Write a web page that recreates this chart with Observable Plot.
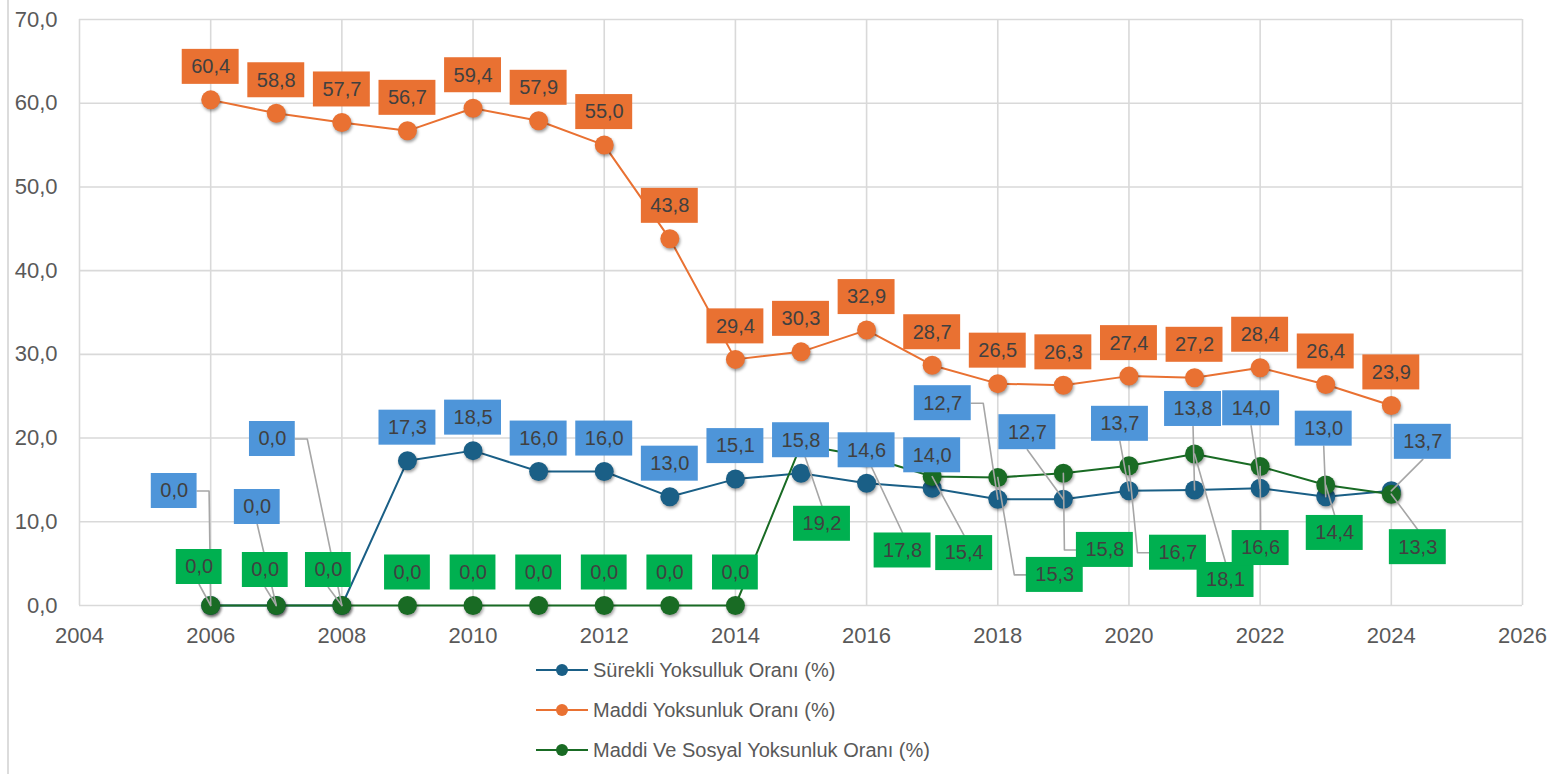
<!DOCTYPE html>
<html><head><meta charset="utf-8">
<script src="https://cdn.jsdelivr.net/npm/d3@7"></script>
<script src="https://cdn.jsdelivr.net/npm/@observablehq/plot@0.6"></script>
<style>
body{margin:0;background:#fff;width:1566px;height:774px;overflow:hidden;position:relative;font-family:"Liberation Sans",Arial,sans-serif;}
#frame{position:absolute;left:7px;top:0;height:774px;border-left:2px solid #dcdcdc;}
#chart{position:absolute;left:0;top:0;}
#legend{position:absolute;left:536px;top:650px;}
.row{display:flex;align-items:center;height:40px;color:#595959;font-size:20px;}
.row svg{margin-right:5px;}
#chart g[aria-label="dot"]{filter:drop-shadow(1px 2px 1.5px rgba(0,0,0,0.38));}
</style></head><body>
<div id="frame"></div><div id="chart"></div><div id="legend"></div>
<script>
const years = [2006,2007,2008,2009,2010,2011,2012,2013,2014,2015,2016,2017,2018,2019,2020,2021,2022,2023,2024];
const surekli = [0.0,0.0,0.0,17.3,18.5,16.0,16.0,13.0,15.1,15.8,14.6,14.0,12.7,12.7,13.7,13.8,14.0,13.0,13.7];
const maddi = [60.4,58.8,57.7,56.7,59.4,57.9,55.0,43.8,29.4,30.3,32.9,28.7,26.5,26.3,27.4,27.2,28.4,26.4,23.9];
const maddiSosyal = [0.0,0.0,0.0,0.0,0.0,0.0,0.0,0.0,0.0,19.2,17.8,15.4,15.3,15.8,16.7,18.1,16.6,14.4,13.3];
const seriesNames = ["Sürekli Yoksulluk Oranı (%)","Maddi Yoksunluk Oranı (%)","Maddi Ve Sosyal Yoksunluk Oranı (%)"];
const xTicks = [2004,2006,2008,2010,2012,2014,2016,2018,2020,2022,2024,2026];
const yTicks = [0,10,20,30,40,50,60,70];

// styling
const lineColors = ["#1a5f86","#e97132","#196b24"];
const labelColors = ["#4e95d9","#e97132","#00b050"];
// label offsets from their point, in pixels [dx, dy] (Excel-style manually moved labels)
const surekliLabelShift = [[-36.5,-114.5],[-19,-98.5],[-69.5,-166.5],[0,-33],[0,-33],[0,-33],[0,-33],[0,-33],[0,-33],[0,-33],[0,-33],[0,-33],[-55,-96],[-36,-67],[-9,-67],[-1.5,-81],[-9,-80],[-2,-68],[31.5,-49]];
const maddiLabelShift = years.map(() => [0,-33]);
const maddiSosyalLabelShift = [[-11.5,-38.5],[-11,-35.5],[-13.5,-35.5],[0,-33],[0,-33],[0,-33],[0,-33],[0,-33],[0,-33],[21,79],[36,94],[32,76.5],[57,97.5],[41.5,76.7],[49,87],[31,126],[0.5,81.5],[9,48],[26.5,53]];

const W = 1566, H = 650, mL = 79, mR = 44, mT = 19, mB = 45;
const xs = Plot.scale({x: {domain: [2004, 2026], range: [mL, W - mR]}});
const ys = Plot.scale({y: {domain: [0, 70], range: [H - mB, mT]}});
const fmt = v => v.toFixed(1).replace(".", ",");

const allValues = [surekli, maddi, maddiSosyal];
const allShifts = [surekliLabelShift, maddiLabelShift, maddiSosyalLabelShift];

const series = allValues.map((vals, s) => years.map((yr, i) => ({year: yr, value: vals[i], s})));

const labels = [[],[],[]];
const leaders = [];
allValues.forEach((vals, s) => {
  years.forEach((yr, i) => {
    const v = vals[i];
    const [dx, dy] = allShifts[s][i];
    const px = xs.apply(yr), py = ys.apply(v);
    const cx = px + dx, cy = py + dy;
    const txt = fmt(v);
    const nd = txt.length - 1;
    const w = 18 + 20 * (nd * 0.556 + 0.278);
    const h = 35;
    const bx1 = cx - w / 2, bx2 = cx + w / 2, by1 = cy - h / 2, by2 = cy + h / 2;
    labels[s].push({
      text: txt,
      x: xs.invert(cx), y: ys.invert(cy),
      x1: xs.invert(bx1), x2: xs.invert(bx2), y1: ys.invert(by2), y2: ys.invert(by1)
    });
    if (!(dx === 0 && dy === -33)) {
      const id = s + "-" + i;
      let pts;
      if (px >= bx1 - 10 && px <= bx2 + 10) {
        pts = [[cx, py > cy ? by2 : by1], [px, py]];
      } else {
        const right = px > bx2;
        const side = right ? bx2 : bx1;
        const stub = side + (right ? 12 : -12);
        pts = [[side, cy], [stub, cy], [px, py]];
      }
      pts.forEach(([a, b]) => leaders.push({id, x: xs.invert(a), y: ys.invert(b)}));
    }
  });
});

const marks = [
  Plot.ruleY(yTicks, {stroke: "#d9d9d9", strokeWidth: 1.6}),
  Plot.ruleX(xTicks, {stroke: "#d9d9d9", strokeWidth: 1.6})
];
series.forEach((data, s) => {
  marks.push(Plot.line(data, {x: "year", y: "value", stroke: lineColors[s], strokeWidth: 2}));
  marks.push(Plot.dot(data, {x: "year", y: "value", r: 9.5, fill: lineColors[s], stroke: "none"}));
});
marks.push(Plot.line(leaders, {x: "x", y: "y", z: "id", stroke: "#a6a6a6", strokeWidth: 1.6}));
labels.forEach((lab, s) => {
  marks.push(Plot.rect(lab, {x1: "x1", x2: "x2", y1: "y1", y2: "y2", fill: labelColors[s]}));
  marks.push(Plot.text(lab, {x: "x", y: "y", text: "text", fill: "#404040", fontSize: 20, textAnchor: "middle", lineAnchor: "middle"}));
});

const chart = Plot.plot({
  width: W, height: H,
  marginLeft: mL, marginRight: mR, marginTop: mT, marginBottom: mB,
  style: {fontFamily: "'Liberation Sans', Arial, sans-serif", fontSize: "22px", color: "#595959", background: "transparent", overflow: "visible"},
  x: {domain: [2004, 2026], ticks: xTicks, tickFormat: d => String(d), tickSize: 0, tickPadding: 22, label: null},
  y: {domain: [0, 70], ticks: yTicks, tickFormat: fmt, tickSize: 0, tickPadding: 22, label: null},
  marks
});
document.getElementById("chart").appendChild(chart);

const legend = document.getElementById("legend");
seriesNames.forEach((name, s) => {
  const row = document.createElement("div");
  row.className = "row";
  row.innerHTML = `<svg width="52" height="14"><line x1="0" x2="52" y1="7" y2="7" stroke="${lineColors[s]}" stroke-width="2"/><circle cx="26" cy="7" r="6" fill="${lineColors[s]}"/></svg><span>${name}</span>`;
  legend.appendChild(row);
});
</script>
</body></html>
